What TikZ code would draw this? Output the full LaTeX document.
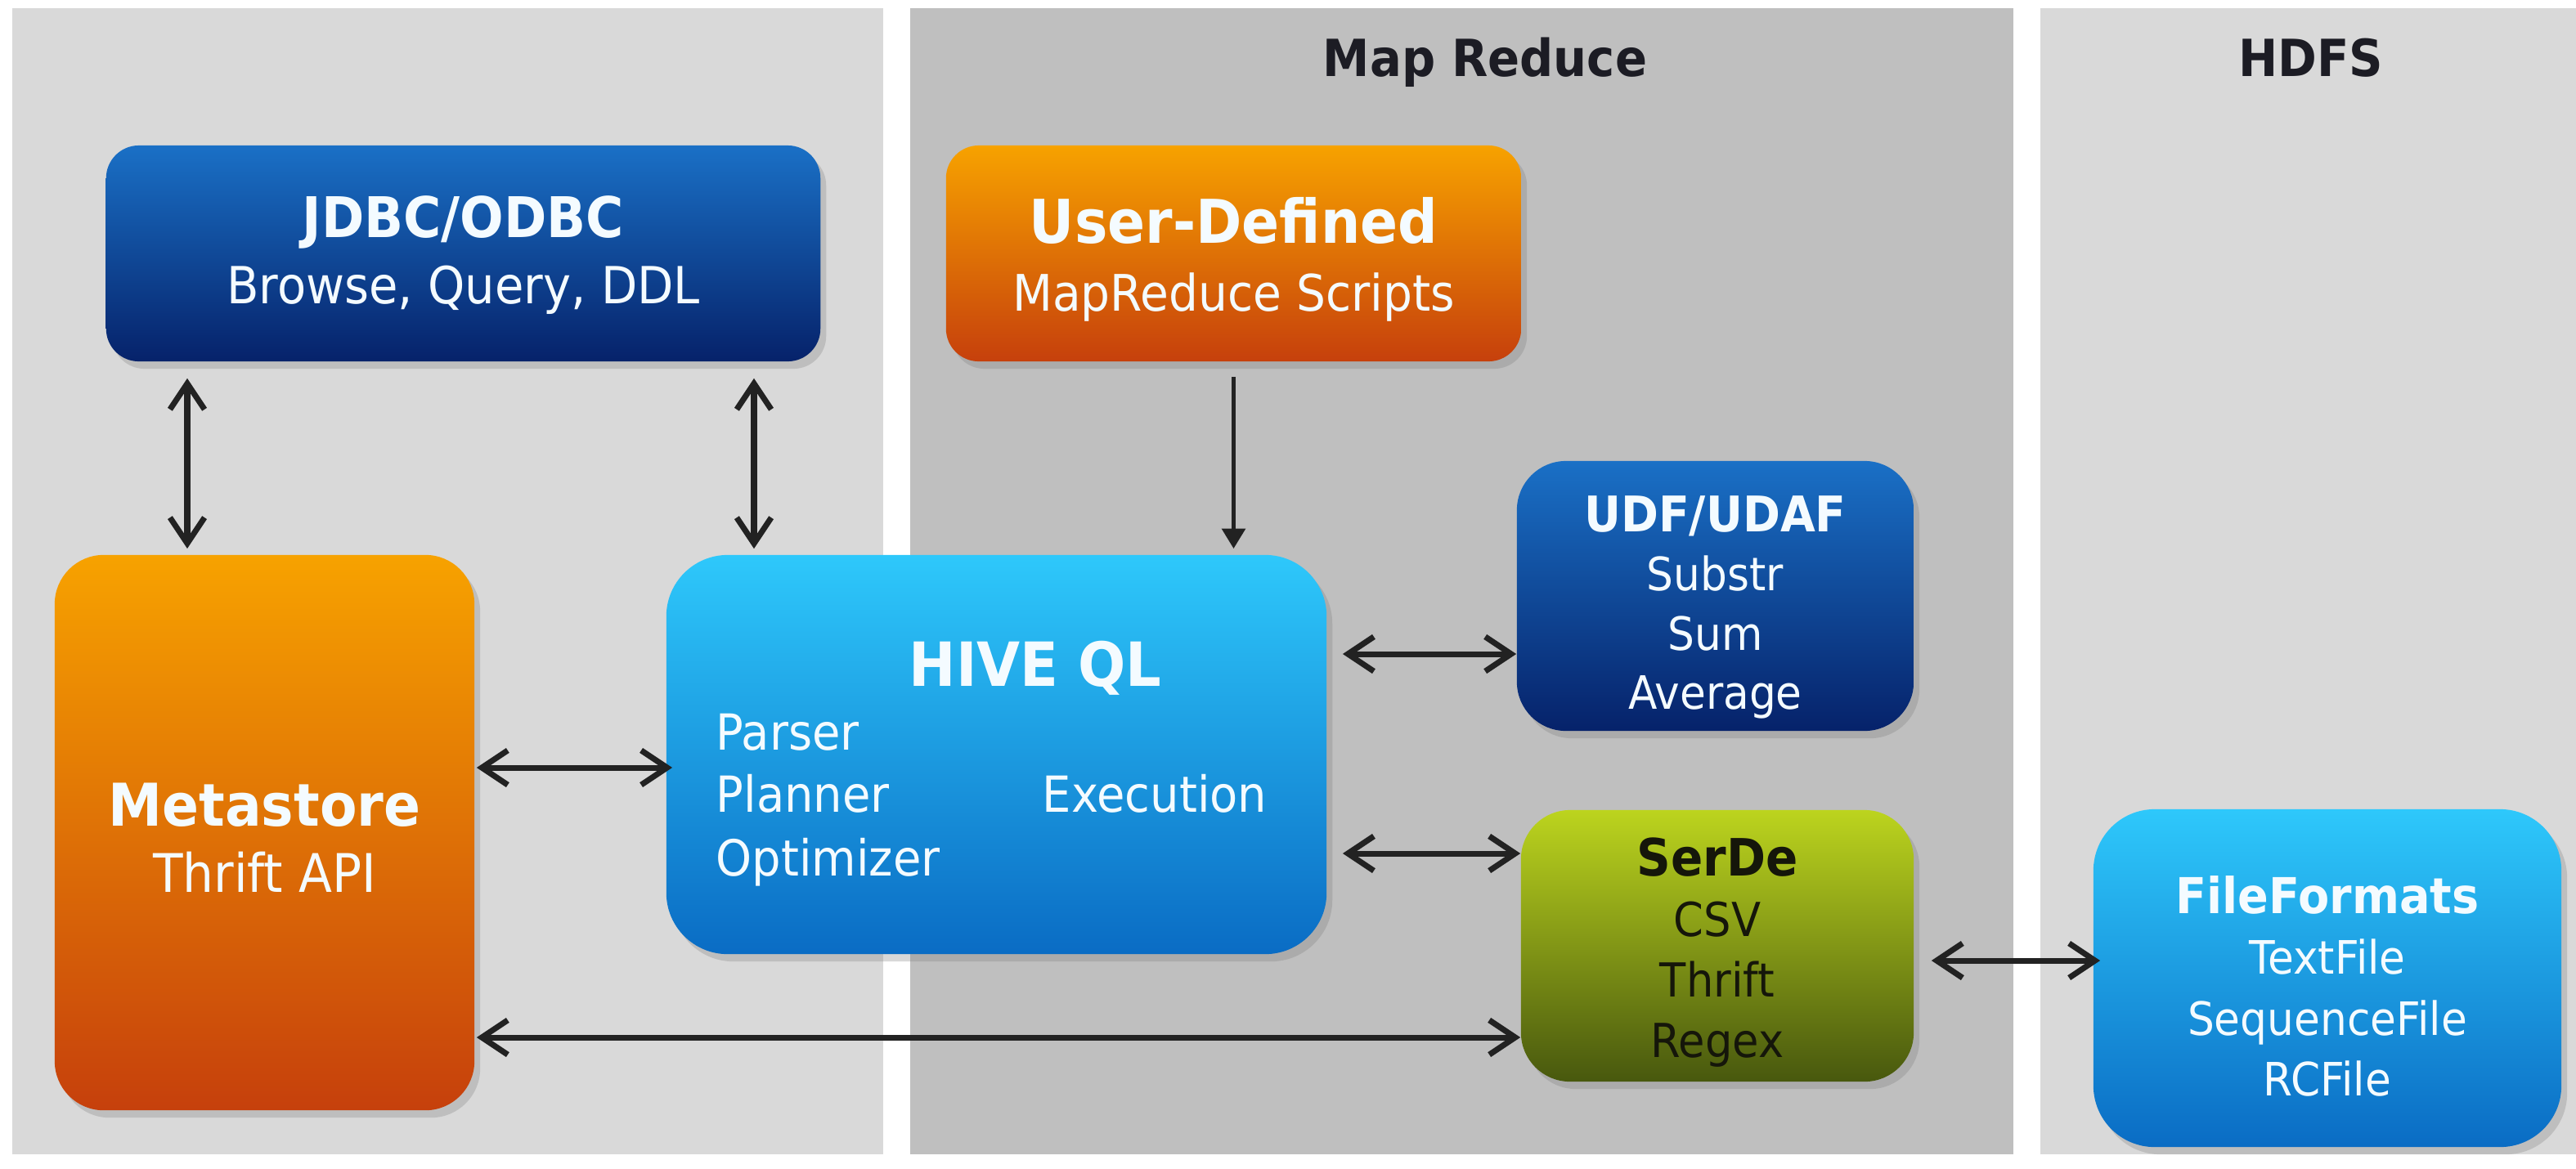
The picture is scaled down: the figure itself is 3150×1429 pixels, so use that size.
\documentclass[tikz,border=0pt]{standalone}
\usepackage{fontspec}
\setmainfont{DejaVu Sans}[FakeStretch=0.92]
\usetikzlibrary{arrows.meta,shadows}
\definecolor{panelL}{HTML}{D9D9D9}
\definecolor{panelM}{HTML}{BFBFBF}
\definecolor{dbTop}{HTML}{1A70C6}
\definecolor{dbBot}{HTML}{06226A}
\definecolor{orTop}{HTML}{F7A200}
\definecolor{orBot}{HTML}{C6400C}
\definecolor{lbTop}{HTML}{2EC8FB}
\definecolor{lbBot}{HTML}{0A6CC4}
\definecolor{grTop}{HTML}{BCD41E}
\definecolor{grBot}{HTML}{48580E}
\definecolor{arrowc}{HTML}{222222}
\definecolor{titlec}{HTML}{1C1C24}
\definecolor{lighttext}{HTML}{F4FBFF}
\definecolor{darktext}{HTML}{15160A}
\begin{document}
\begin{tikzpicture}[x=0.01cm,y=-0.01cm,
  >={Straight Barb[length=9pt,width=12pt,line width=2pt]},
  box/.style={inner sep=0pt,
    drop shadow={opacity=0.3, shadow xshift=0.07cm, shadow yshift=-0.09cm}},
  darkblue/.style={box, top color=dbTop, bottom color=dbBot},
  orange/.style={box, top color=orTop, bottom color=orBot},
  lightblue/.style={box, top color=lbTop, bottom color=lbBot},
  green/.style={box, top color=grTop, bottom color=grBot},
  boxtext/.style={inner sep=0pt, align=center, text=lighttext},
  paneltitle/.style={anchor=base, inner sep=0pt, text=titlec,
    font=\fontsize{17.8}{20}\selectfont\bfseries},
  hivetext/.style={anchor=base west, inner sep=0pt, text=lighttext,
    font=\fontsize{17.3}{20}\selectfont},
  biarr/.style={<->, line width=2pt, draw=arrowc},
  uniarr/.style={-{Triangle[length=7pt,width=8pt]}, line width=1.6pt, draw=arrowc}
]
\fill[white] (0,0) rectangle (3150,1429);
\useasboundingbox (0,0) rectangle (3150,1429);

% panels
\fill[panelL] (15,10) rectangle (1080,1412);
\fill[panelM] (1113,10) rectangle (2462,1412);
\fill[panelL] (2495,10) rectangle (3150,1412);

\node[paneltitle] (tmr) at (1816,93) {Map Reduce};
\node[paneltitle] (thdfs) at (2826,93) {HDFS};

% boxes
\node[darkblue, rounded corners=0.4cm, minimum width=8.73cm, minimum height=2.64cm] (jdbc) at (566.5,310) {};
\node[boxtext, font=\fontsize{17.8}{22.8}\selectfont] (jdbct) at ([yshift=-0.02cm]jdbc.center)
  {{\bfseries\fontsize{19.5}{22.8}\selectfont JDBC/ODBC}\\Browse, Query, DDL};

\node[orange, rounded corners=0.4cm, minimum width=7.03cm, minimum height=2.64cm] (ud) at (1508.5,310) {};
\node[boxtext, font=\fontsize{17.5}{23.6}\selectfont] (udt) at ([yshift=-0.07cm]ud.center)
  {{\bfseries\fontsize{21}{23.6}\selectfont User-Defined}\\MapReduce Scripts};

\node[orange, rounded corners=0.6cm, minimum width=5.13cm, minimum height=6.79cm] (meta) at (323.5,1018.5) {};
\node[boxtext, font=\fontsize{18.5}{23}\selectfont] (metat) at ([yshift=-0.06cm]meta.center)
  {{\bfseries\fontsize{20.5}{23}\selectfont Metastore}\\Thrift API};

\node[lightblue, rounded corners=0.75cm, minimum width=8.07cm, minimum height=4.88cm] (hive) at (1218.5,923) {};
\node[hivetext, font=\fontsize{21.2}{24}\selectfont\bfseries] (hql) at (1111,839) {HIVE QL};
\node[hivetext] (parser) at (875,917) {Parser};
\node[hivetext] (planner) at (875,993) {Planner};
\node[hivetext] (optim) at (875,1071) {Optimizer};
\node[hivetext] (exec) at (1274,993) {Execution};

\node[darkblue, rounded corners=0.6cm, minimum width=4.85cm, minimum height=3.30cm] (udf) at (2097.5,729) {};
\node[boxtext, font=\fontsize{16}{20.6}\selectfont] (udft) at ([yshift=-0.14cm]udf.center)
  {{\bfseries\fontsize{17.1}{20.6}\selectfont UDF/UDAF}\\Substr\\Sum\\Average};

\node[green, rounded corners=0.6cm, minimum width=4.80cm, minimum height=3.32cm] (serde) at (2100,1157) {};
\node[boxtext, text=darktext, font=\fontsize{16.3}{21}\selectfont] (serdet) at ([yshift=-0.08cm]serde.center)
  {{\bfseries\fontsize{17.9}{21}\selectfont SerDe}\\CSV\\Thrift\\Regex};

\node[lightblue, rounded corners=0.75cm, minimum width=5.72cm, minimum height=4.13cm] (ff) at (2846,1196.5) {};
\node[boxtext, font=\fontsize{16}{21.2}\selectfont] (fft) at ([yshift=-0.1cm]ff.center)
  {{\bfseries\fontsize{17.2}{21.2}\selectfont FileFormats}\\TextFile\\SequenceFile\\RCFile};

% helper coordinates for connector positions
\coordinate (xa) at (229,0);
\coordinate (xb) at (922,0);
\coordinate (ya) at (0,800);
\coordinate (yb) at (0,1044);
\coordinate (yc) at (0,939);
\coordinate (yd) at (0,1269);
\coordinate (ye) at (0,1175);

% connectors
\draw[biarr] ([yshift=-0.2cm]jdbc.south -| xa) -- ([yshift=0.07cm]meta.north -| xa);
\draw[biarr] ([yshift=-0.2cm]jdbc.south -| xb) -- ([yshift=0.07cm]hive.north -| xb);
\draw[uniarr] ([yshift=-0.18cm]ud.south) -- ([yshift=0.07cm]hive.north -| ud.south);
\draw[biarr] ([xshift=0.19cm]hive.east |- ya) -- (udf.west |- ya);
\draw[biarr] ([xshift=0.19cm]hive.east |- yb) -- (serde.west |- yb);
\draw[biarr] ([xshift=0.02cm]meta.east |- yc) -- ([xshift=0.08cm]hive.west |- yc);
\draw[biarr] ([xshift=0.02cm]meta.east |- yd) -- (serde.west |- yd);
\draw[biarr] ([xshift=0.21cm]serde.east |- ye) -- ([xshift=0.09cm]ff.west |- ye);
\end{tikzpicture}
\end{document}
